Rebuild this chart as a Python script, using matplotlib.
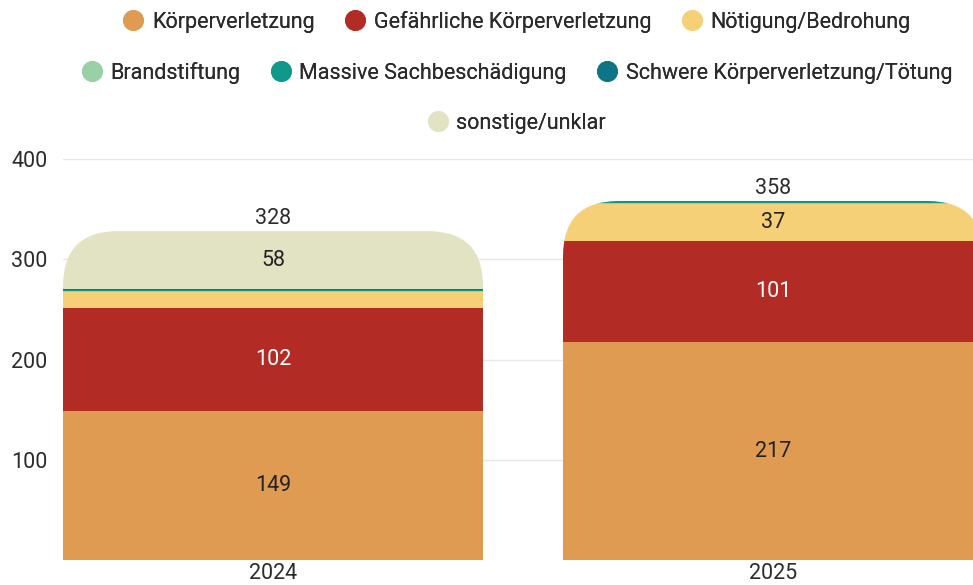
import matplotlib.pyplot as plt
from matplotlib.lines import Line2D
from matplotlib.patches import FancyBboxPatch

plt.rcParams['font.family'] = ['Roboto', 'DejaVu Sans']
plt.rcParams['font.size'] = 15

years = ["2024", "2025"]
categories = [
    "Körperverletzung",
    "Gefährliche Körperverletzung",
    "Nötigung/Bedrohung",
    "Brandstiftung",
    "Massive Sachbeschädigung",
    "Schwere Körperverletzung/Tötung",
    "sonstige/unklar",
]
values = {
    "Körperverletzung": [149, 217],
    "Gefährliche Körperverletzung": [102, 101],
    "Nötigung/Bedrohung": [16, 37],
    "Brandstiftung": [1, 1],
    "Massive Sachbeschädigung": [1, 1],
    "Schwere Körperverletzung/Tötung": [1, 1],
    "sonstige/unklar": [58, 0],
}
colors = ["#E09B52", "#B22C25", "#F5D077", "#9AD0A5", "#10988A", "#0D7585", "#E2E3C2"]
label_colors = ["#222222", "white", "#222222", "#222222", "white", "white", "#222222"]

TEXT = "#2B2B2B"
x = list(range(len(years)))
width = 0.84

fig = plt.figure(figsize=(9.73, 5.85), dpi=100)
ax = fig.add_axes([63 / 973, 25 / 585, 1 - 63 / 973, (560 - 159) / 585])

totals = [sum(values[c][i] for c in categories) for i in x]

# rounded top clip for each stacked column
clips = []
for i in x:
    clip = FancyBboxPatch((i - width / 2, -60), width, totals[i] + 60,
                          boxstyle="round,pad=0,rounding_size=0.11",
                          mutation_aspect=500, transform=ax.transData)
    clips.append(clip)

bottom = [0, 0]
for cat, col, lc in zip(categories, colors, label_colors):
    vals = values[cat]
    bars = ax.bar(x, vals, width, bottom=bottom, color=col, linewidth=0, zorder=2)
    for i, b in enumerate(bars):
        b.set_clip_path(clips[i])
        if vals[i] >= 30:
            ax.text(i, bottom[i] + vals[i] / 2, str(vals[i]), ha='center', va='center',
                    color=lc, fontsize=15.5, zorder=3)
    bottom = [bottom[i] + vals[i] for i in x]

for i in x:
    ax.text(i, totals[i] + 13, str(totals[i]), ha='center', va='center',
            color=TEXT, fontsize=15.5, clip_on=False)

ax.set_xlim(-0.42, 1.40)
ax.set_ylim(0, 400)
ax.set_yticks([100, 200, 300, 400])
ax.set_xticks(x)
ax.set_xticklabels(years)
ax.yaxis.grid(True, color="#E8E8E8", linewidth=1, zorder=0)
ax.set_axisbelow(True)
ax.tick_params(axis='both', length=0, labelcolor=TEXT, labelsize=15.5)
ax.tick_params(axis='y', pad=11)
ax.tick_params(axis='x', pad=2)
for s in ax.spines.values():
    s.set_visible(False)

handles = [Line2D([], [], marker='o', linestyle='', markersize=14,
                  markerfacecolor=c, markeredgecolor=c, label=l)
           for c, l in zip(colors, categories)]
rows = [(handles[0:3], 1 - 22 / 585), (handles[3:6], 1 - 73 / 585), (handles[6:], 1 - 123 / 585)]
for hs, yy in rows:
    leg = fig.legend(handles=hs, loc='center', bbox_to_anchor=(0.532, yy), ncol=len(hs),
                     frameon=False, fontsize=15.5, handlelength=0.8, handletextpad=0.45,
                     columnspacing=1.5, borderpad=0)
    for t in leg.get_texts():
        t.set_color(TEXT)
    fig.add_artist(leg)

fig.savefig("out.png", dpi=100)
